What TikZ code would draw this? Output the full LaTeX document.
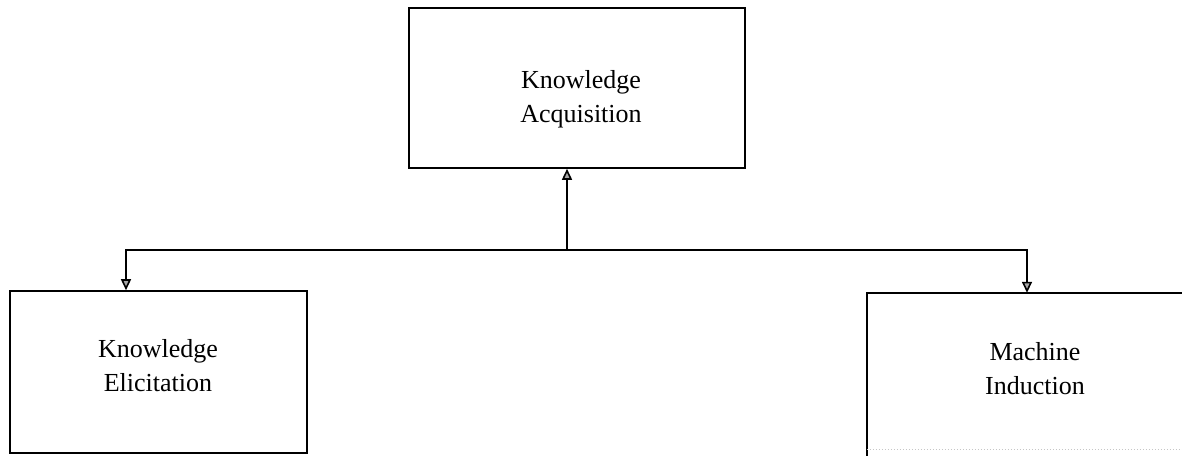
\documentclass[tikz,border=0pt]{standalone}
\usepackage{fontspec}
\setmainfont{Liberation Serif}
\usetikzlibrary{arrows.meta}
\begin{document}
\begin{tikzpicture}[x=1pt,y=-1pt,
  edge/.style={line width=1.6pt,black},
  box/.style={draw,line width=1.6pt,inner sep=0pt},
  txt/.style={align=center,font=\fontsize{26}{34}\selectfont,inner sep=0pt},
  link/.style={line width=1.6pt,-{Triangle[length=11pt,width=10pt,fill=gray!70]}}]
  \useasboundingbox (0,0) rectangle (1182,455);
  \clip (0,0) rectangle (1182,455);

  % parent box
  \node[box,minimum width=336pt,minimum height=160pt] (ka) at (577,88) {};
  \node[txt] (kat) at (581,99) {Knowledge\\Acquisition};

  % left child
  \node[box,minimum width=297pt,minimum height=162pt] (ke) at (158.5,372) {};
  \node[txt] (ket) at (158,366) {Knowledge\\Elicitation};

  % right child, running off the right margin; faint lower edge
  \node[inner sep=0pt,minimum width=336pt,minimum height=156pt] (mi) at (1035,371) {};
  \draw[edge] ([yshift=-8pt]mi.south west) -- (mi.north west) -- (mi.north east);
  \draw[gray!45,line width=1pt,dotted] (mi.south west) -- (mi.south east);
  \node[txt] (mit) at (1035,369) {Machine\\Induction};

  % tree connectors
  \coordinate (hub) at (567,250);
  \coordinate (lt) at (126,250);
  \coordinate (rt) at (1027,250);
  \draw[link] (hub) -- (hub |- ka.south);
  \draw[link] (hub) -- (lt) -- (lt |- ke.north);
  \draw[link] (hub) -- (rt) -- (rt |- mi.north);
\end{tikzpicture}
\end{document}
